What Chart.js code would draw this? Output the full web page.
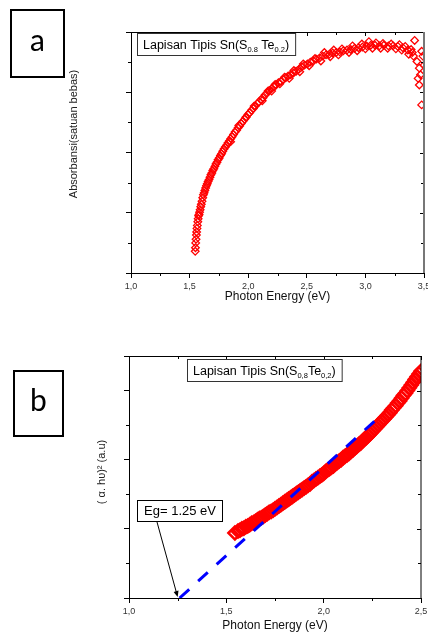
<!DOCTYPE html>
<html>
<head>
<meta charset="utf-8">
<script src="https://cdn.jsdelivr.net/npm/chart.js@4.4.0/dist/chart.umd.min.js"></script>
<style>
html, body { margin: 0; padding: 0; background: #fff; }
canvas { display: block; }
#wrapA { position: absolute; left: 0; top: 0; width: 428px; height: 320px; }
#wrapB { position: absolute; left: 0; top: 320px; width: 428px; height: 317px; }
</style>
</head>
<body>
<div id="wrapA"><canvas id="chartA" width="428" height="320"></canvas></div>
<div id="wrapB"><canvas id="chartB" width="428" height="317"></canvas></div>
<script>
var FONT = '"Liberation Sans", Arial, sans-serif';

// panel a : absorbance vs photon energy
var bandE = [1.548,1.550,1.552,1.555,1.558,1.560,1.563,1.566,1.570,1.573,
  1.577,1.581,1.585,1.590,1.595,1.600,1.606,1.612,1.618,1.624,
  1.630,1.637,1.644,1.651,1.658,1.666,1.674,1.682,1.690,1.698,
  1.707,1.716,1.725,1.734,1.743,1.753,1.763,1.773,1.783,1.794,
  1.805,1.816,1.827,1.839,1.851,1.863,1.875,1.888,1.901,1.914,
  1.927,1.941,1.955,1.969,1.983,1.998,2.013,2.028,2.044,2.060,
  2.076,2.093,2.110,2.127,2.145,2.163,2.181,2.200,2.219,2.238,
  2.258,2.278,2.299,2.320,2.341,2.363,2.386,2.409,2.432,2.456,
  2.480,2.505,2.530,2.556,2.582,2.609,2.636,2.664,2.692,2.721,
  2.751,2.781,2.812,2.843,2.875,2.908,2.941,2.975,3.010,3.046,
  3.082,3.119,3.157,3.196,3.236,3.277,3.319,3.362,3.400];
var bandA = [0.36,0.42,0.50,0.56,0.63,0.68,0.74,0.79,0.85,0.90,
  0.95,0.97,1.01,1.05,1.10,1.14,1.19,1.25,1.30,1.33,
  1.37,1.41,1.45,1.48,1.52,1.55,1.59,1.63,1.66,1.70,
  1.73,1.77,1.81,1.84,1.88,1.91,1.95,1.98,2.02,2.06,
  2.09,2.12,2.16,2.19,2.23,2.26,2.30,2.34,2.37,2.41,
  2.44,2.48,2.52,2.55,2.59,2.63,2.66,2.70,2.73,2.77,
  2.81,2.84,2.88,2.91,2.96,2.99,3.03,3.06,3.09,3.12,
  3.16,3.18,3.21,3.24,3.27,3.29,3.32,3.35,3.38,3.42,
  3.45,3.47,3.50,3.52,3.55,3.57,3.60,3.62,3.63,3.65,
  3.66,3.67,3.69,3.70,3.71,3.73,3.74,3.75,3.77,3.78,
  3.78,3.77,3.78,3.77,3.77,3.76,3.74,3.70,3.66];
var spreadE = [1.85,1.92,1.98,2.05,2.12,2.17,2.20,2.23,2.27,2.31,
  2.35,2.39,2.44,2.47,2.52,2.57,2.62,2.65,2.70,2.73,
  2.77,2.80,2.86,2.89,2.93,2.97,3.00,3.03,3.06,3.09,
  3.13,3.15,3.19,3.22,3.26,3.29,3.31,3.34,3.37,3.39,3.41];
var spreadA = [2.18,2.45,2.58,2.77,2.86,3.02,3.02,3.13,3.14,3.25,
  3.23,3.36,3.34,3.47,3.44,3.56,3.52,3.66,3.59,3.70,
  3.62,3.72,3.66,3.77,3.69,3.80,3.72,3.84,3.73,3.82,
  3.73,3.81,3.73,3.80,3.72,3.79,3.70,3.76,3.63,3.71,3.60];
var edgeE = [3.42,3.44,3.45,3.46,3.46,3.47,3.48,3.48,3.49,3.50];
var edgeA = [3.86,3.51,3.23,3.40,3.12,3.29,3.68,2.79,3.60,3.45];

// panel b : (alpha h nu)^2 vs photon energy
var energyB = [1.544,
  1.56,1.57,1.58,1.59,1.60,1.61,1.62,1.63,1.64,1.65,
  1.66,1.67,1.68,1.69,1.70,1.71,1.72,1.73,1.74,1.75,
  1.76,1.77,1.78,1.79,1.80,1.81,1.82,1.83,1.84,1.85,
  1.86,1.87,1.88,1.89,1.90,1.91,1.92,1.93,1.94,1.95,
  1.96,1.97,1.98,1.99,2.00,2.01,2.02,2.03,2.04,2.05,
  2.06,2.07,2.08,2.09,2.10,2.11,2.12,2.13,2.14,2.15,
  2.16,2.17,2.18,2.19,2.20,2.21,2.22,2.23,2.24,2.25,
  2.26,2.27,2.28,2.29,2.30,2.31,2.32,2.33,2.34,2.35,
  2.36,2.37,2.38,2.39,2.40,2.41,2.42,2.43,2.44,2.45,
  2.46,2.47,2.48,2.49,2.50];
var ahvB = [0.94,
  0.97,0.98,1.00,1.01,1.03,1.04,1.06,1.08,1.09,1.11,
  1.13,1.15,1.16,1.18,1.20,1.22,1.24,1.25,1.27,1.29,
  1.31,1.33,1.35,1.37,1.39,1.41,1.43,1.45,1.47,1.49,
  1.51,1.53,1.55,1.57,1.59,1.61,1.63,1.65,1.68,1.70,
  1.72,1.74,1.76,1.78,1.80,1.83,1.85,1.87,1.89,1.91,
  1.94,1.96,1.98,2.00,2.03,2.05,2.07,2.09,2.12,2.14,
  2.17,2.19,2.22,2.24,2.27,2.30,2.32,2.35,2.38,2.41,
  2.44,2.47,2.50,2.53,2.56,2.59,2.62,2.65,2.68,2.72,
  2.75,2.78,2.82,2.85,2.89,2.93,2.96,3.00,3.04,3.08,
  3.12,3.16,3.20,3.24,3.28];
var fitE = [1.26, 2.27];
var fitY = [0, 2.58];
var Eg = 1.25;

// ticks
var xMajorA = [1, 1.5, 2, 2.5, 3, 3.5];
var xMinorA = [1.25, 1.75, 2.25, 2.75, 3.25];
var yMajorA = [1, 2, 3];
var yMinorA = [0.5, 1.5, 2.5, 3.5];
var xMajorB = [1, 1.5, 2, 2.5];
var xMinorB = [1.25, 1.75, 2.25];
var yMajorB = [1, 2, 3];
var yMinorB = [0.5, 1.5, 2.5];

function pts(xs, ys) { return xs.map(function (v, i) { return { x: v, y: ys[i] }; }); }
function comma(v) { return v.toFixed(1).replace('.', ','); }

// box frame with minor ticks
var framePlugin = {
  id: 'frame',
  afterDraw: function (chart, args, o) {
    var ctx = chart.ctx, a = chart.chartArea, x = chart.scales.x, y = chart.scales.y;
    ctx.save();
    ctx.strokeStyle = '#000';
    ctx.lineWidth = 1;
    ctx.beginPath();
    ctx.moveTo(a.left, a.top + 0.5); ctx.lineTo(a.right, a.top + 0.5);
    o.xMinor.forEach(function (v) {
      var p = Math.round(x.getPixelForValue(v)) + 0.5;
      ctx.moveTo(p, a.bottom); ctx.lineTo(p, a.bottom + 3);
      ctx.moveTo(p, a.top); ctx.lineTo(p, a.top + 3);
    });
    o.xMajor.forEach(function (v) {
      var p = Math.round(x.getPixelForValue(v)) + 0.5;
      ctx.moveTo(p, a.top); ctx.lineTo(p, a.top + 4);
    });
    o.yMinor.forEach(function (v) {
      var p = Math.round(y.getPixelForValue(v)) + 0.5;
      ctx.moveTo(a.left - 3, p); ctx.lineTo(a.left, p);
      ctx.moveTo(a.right - 3, p); ctx.lineTo(a.right, p);
    });
    o.yMajor.forEach(function (v) {
      var p = Math.round(y.getPixelForValue(v)) + 0.5;
      ctx.moveTo(a.right - 4, p); ctx.lineTo(a.right, p);
    });
    ctx.stroke();
    ctx.strokeStyle = o.rightColor;
    ctx.lineWidth = o.rightWidth;
    ctx.beginPath();
    ctx.moveTo(a.right, a.top); ctx.lineTo(a.right, a.bottom);
    ctx.stroke();
    ctx.restore();
  }
};

function legendBox(ctx, left, top, parts, big, small) {
  var w = 0;
  parts.forEach(function (p) {
    ctx.font = (p[1] ? small : big) + 'px ' + FONT;
    w += ctx.measureText(p[0]).width;
  });
  ctx.fillStyle = '#fff';
  ctx.fillRect(left, top, w + 12, 22);
  ctx.strokeStyle = '#333';
  ctx.lineWidth = 1;
  ctx.strokeRect(left + 0.5, top + 0.5, w + 12, 22);
  var x = left + 6, base = top + 16;
  ctx.fillStyle = '#000';
  ctx.textAlign = 'left';
  ctx.textBaseline = 'alphabetic';
  parts.forEach(function (p) {
    ctx.font = (p[1] ? small : big) + 'px ' + FONT;
    ctx.fillText(p[0], x, p[1] ? base + 3 : base);
    x += ctx.measureText(p[0]).width;
  });
}

function letterBox(ctx, l, t, w, h, txt) {
  ctx.lineWidth = 2;
  ctx.strokeStyle = '#000';
  ctx.strokeRect(l, t, w, h);
  ctx.fillStyle = '#000';
  ctx.font = '30px Lato, "Open Sans", sans-serif';
  ctx.textAlign = 'center';
  ctx.textBaseline = 'middle';
  ctx.fillText(txt, l + w / 2, t + h / 2 - 2);
}

function vTitle(ctx, x, y, txt, size) {
  ctx.save();
  ctx.translate(x, y);
  ctx.rotate(-Math.PI / 2);
  ctx.fillStyle = '#222';
  ctx.font = size + 'px ' + FONT;
  ctx.textAlign = 'center';
  ctx.textBaseline = 'middle';
  ctx.fillText(txt, 0, 0);
  ctx.restore();
}

var notesA = {
  id: 'notesA',
  afterDraw: function (chart) {
    var ctx = chart.ctx;
    ctx.save();
    letterBox(ctx, 11, 10, 53, 67, 'a');
    vTitle(ctx, 74, 134, 'Absorbansi(satuan bebas)', 11);
    legendBox(ctx, 137, 33, [['Lapisan Tipis Sn(S', 0], ['0.8', 1], [' Te', 0], ['0.2', 1], [')', 0]], 12.5, 7.5);
    ctx.restore();
  }
};

var notesB = {
  id: 'notesB',
  afterDraw: function (chart) {
    var ctx = chart.ctx, x = chart.scales.x, y = chart.scales.y;
    ctx.save();
    letterBox(ctx, 14, 51, 49, 65, 'b');
    vTitle(ctx, 102, 152, '( \u03b1. h\u03c5)\u00b2 (a.u)', 11);
    legendBox(ctx, 187, 39, [['Lapisan Tipis Sn(S', 0], ['0,8', 1], ['Te', 0], ['0,2', 1], [')', 0]], 12.5, 7.5);
    // Eg label and arrow
    ctx.fillStyle = '#fff';
    ctx.fillRect(137, 180, 85, 21);
    ctx.strokeStyle = '#000';
    ctx.lineWidth = 1;
    ctx.strokeRect(137.5, 180.5, 85, 21);
    ctx.fillStyle = '#000';
    ctx.font = '13px ' + FONT;
    ctx.textAlign = 'center';
    ctx.textBaseline = 'middle';
    ctx.fillText('Eg= 1.25 eV', 180, 191.5);
    var x0 = 157, y0 = 202, x1 = x.getPixelForValue(Eg), y1 = y.getPixelForValue(0) - 1;
    var ang = Math.atan2(y1 - y0, x1 - x0);
    ctx.beginPath();
    ctx.moveTo(x0, y0); ctx.lineTo(x1 - 5 * Math.cos(ang), y1 - 5 * Math.sin(ang));
    ctx.stroke();
    ctx.beginPath();
    ctx.moveTo(x1, y1);
    ctx.lineTo(x1 - 6 * Math.cos(ang) + 2.5 * Math.sin(ang), y1 - 6 * Math.sin(ang) - 2.5 * Math.cos(ang));
    ctx.lineTo(x1 - 6 * Math.cos(ang) - 2.5 * Math.sin(ang), y1 - 6 * Math.sin(ang) + 2.5 * Math.cos(ang));
    ctx.closePath();
    ctx.fill();
    ctx.restore();
  }
};

function xAxis(min, max, h, titlePad) {
  return {
    type: 'linear', min: min, max: max,
    afterFit: function (s) { s.height = h; s.paddingLeft = 0; s.paddingRight = 0; },
    ticks: { stepSize: 0.5, autoSkip: false, maxRotation: 0, padding: 3, color: '#333',
      font: { size: 9, family: FONT }, callback: comma },
    grid: { drawOnChartArea: false, drawTicks: true, tickLength: 5, color: '#000' },
    border: { color: '#000', width: 1 },
    title: { display: true, text: 'Photon Energy (eV)', color: '#111',
      font: { size: 12, family: FONT }, padding: { top: 0, bottom: titlePad } }
  };
}
function yAxis(min, max, w) {
  return {
    type: 'linear', min: min, max: max,
    afterFit: function (s) { s.width = w; s.paddingTop = 0; s.paddingBottom = 0; },
    ticks: { display: false, stepSize: 1 },
    grid: { drawOnChartArea: false, drawTicks: true, tickLength: 5, color: '#000' },
    border: { color: '#000', width: 1 }
  };
}

new Chart(document.getElementById('chartA'), {
  type: 'scatter',
  data: {
    datasets: [{
      data: pts(bandE.concat(spreadE, edgeE), bandA.concat(spreadA, edgeA)),
      pointStyle: 'rectRot', pointRadius: 3.8, pointBorderWidth: 1.3,
      borderColor: '#ff0000', backgroundColor: 'rgba(255,255,255,0)', clip: 0
    }]
  },
  options: {
    responsive: false, animation: false, events: [],
    layout: { autoPadding: false, padding: { top: 32, right: 4, left: 0, bottom: 0 } },
    plugins: { legend: { display: false }, tooltip: { enabled: false },
      frame: { xMinor: xMinorA, xMajor: xMajorA, yMinor: yMinorA, yMajor: yMajorA, rightColor: '#777', rightWidth: 2 } },
    scales: { x: xAxis(1, 3.5, 47, 16), y: yAxis(0, 4, 131) }
  },
  plugins: [framePlugin, notesA]
});

new Chart(document.getElementById('chartB'), {
  type: 'scatter',
  data: {
    datasets: [{
      type: 'line', data: pts(fitE, fitY), showLine: true, fill: false,
      borderColor: '#0000ff', borderWidth: 3, borderDash: [13, 12], pointRadius: 0
    }, {
      data: pts(energyB, ahvB),
      pointStyle: 'rectRot', pointRadius: 6.5, pointBorderWidth: 2.5,
      borderColor: '#ff0000', backgroundColor: 'rgba(255,255,255,0)', clip: 0
    }]
  },
  options: {
    responsive: false, animation: false, events: [],
    layout: { autoPadding: false, padding: { top: 36, right: 7, left: 0, bottom: 0 } },
    plugins: { legend: { display: false }, tooltip: { enabled: false },
      frame: { xMinor: xMinorB, xMajor: xMajorB, yMinor: yMinorB, yMajor: yMajorB, rightColor: '#000', rightWidth: 1 } },
    scales: { x: xAxis(1, 2.5, 39, 4), y: yAxis(0, 3.5, 129) }
  },
  plugins: [framePlugin, notesB]
});
</script>
</body>
</html>
